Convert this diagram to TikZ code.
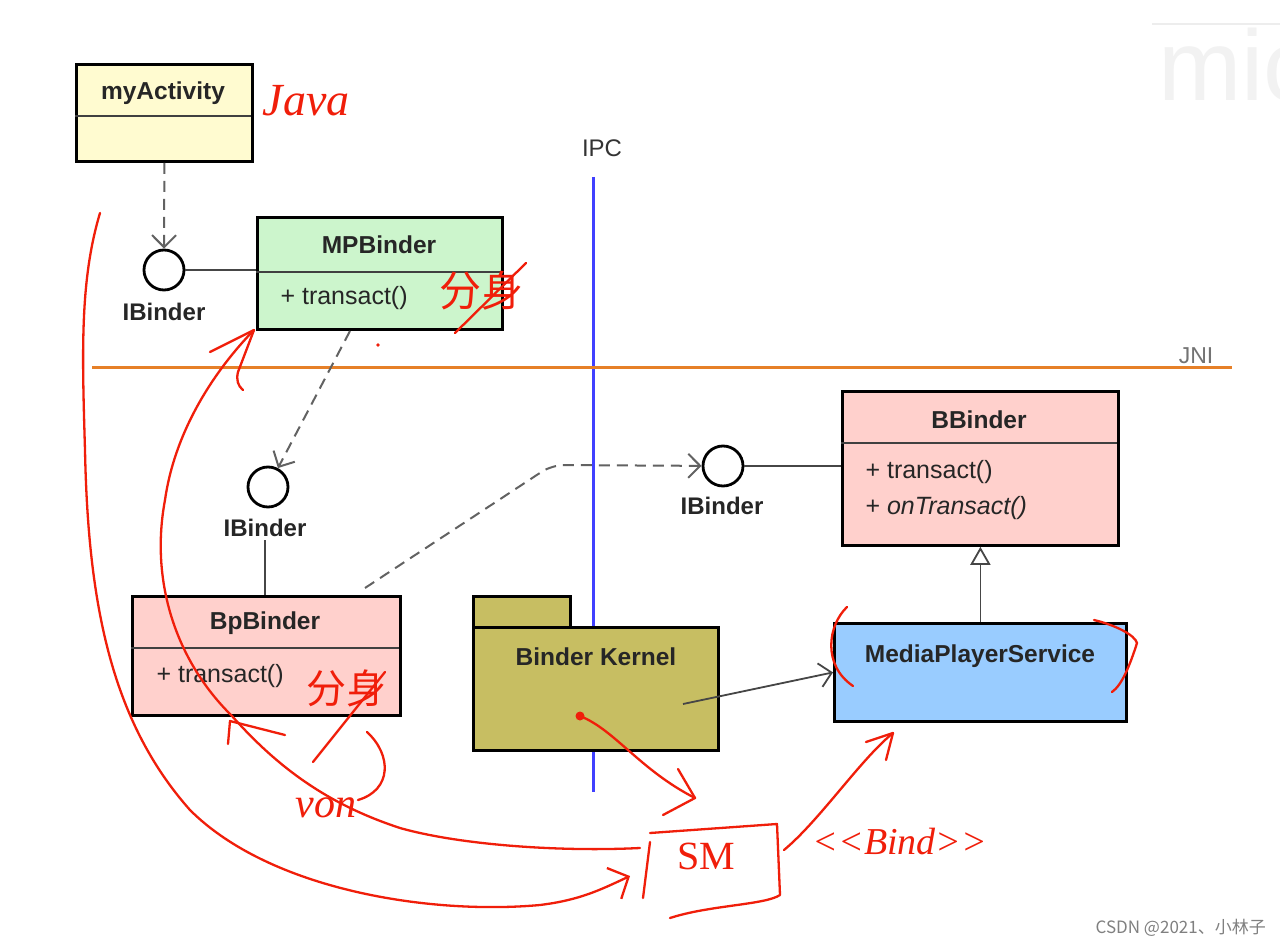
\documentclass[tikz,border=0pt]{standalone}
\usepackage{fontspec}
\setmainfont{Liberation Sans}
\newfontfamily\cjk{Noto Sans CJK SC}
\newfontfamily\handfont{Liberation Serif}
\usetikzlibrary{arrows.meta}
\definecolor{cyellow}{RGB}{255,251,208}
\definecolor{cgreen}{RGB}{204,245,204}
\definecolor{cpink}{RGB}{255,208,204}
\definecolor{cblue}{RGB}{153,204,255}
\definecolor{colive}{RGB}{199,190,98}
\definecolor{ipcblue}{RGB}{64,64,255}
\definecolor{jniorange}{RGB}{230,128,40}
\definecolor{handred}{RGB}{240,30,10}
\definecolor{lineg}{RGB}{70,70,70}
\tikzset{
  classbox/.style={draw=black, line width=2.8pt, anchor=north west, inner sep=0pt},
  titletext/.style={font=\fontsize{24.5}{28}\selectfont\bfseries, text=black!85},
  optext/.style={font=\fontsize{25}{29}\selectfont, text=black!85, anchor=west},
  divider/.style={line width=1.6pt, black!75},
  iface/.style={circle, draw=black, line width=2.8pt, minimum size=40pt, inner sep=0pt, fill=white},
  ifacelabel/.style={font=\fontsize{24}{28}\selectfont\bfseries, text=black!85},
  dep/.style={lineg!85, line width=2pt, dash pattern=on 11pt off 7pt, -{Straight Barb[length=12pt,width=24pt,line width=2pt]}},
  assoc/.style={lineg, line width=1.8pt},
  hand/.style={draw=handred, line width=2.3pt, line cap=round, line join=round},
  handtext/.style={text=handred, inner sep=0pt},
}
\begin{document}
\begin{tikzpicture}[x=1pt,y=-1pt]
\useasboundingbox (0,0) rectangle (1280,947);
\fill[white] (0,0) rectangle (1280,947);

% watermarks
\draw[black!7, line width=1.5pt] (1152,24) -- (1290,24);
\node[anchor=south west, inner sep=0pt, font=\fontsize{100}{100}\selectfont, text=black!5] (wm) at (1158,102) {mic};
\node[anchor=east, inner sep=0pt, font=\cjk\fontsize{17}{20}\selectfont, text=black!50] (csdn) at (1266,928) {CSDN @2021、小林子};

% IPC and JNI lines
\coordinate (ipctop) at (593,177);
\coordinate (ipcbot) at (593,792);
\draw[ipcblue, line width=3pt] (ipctop) -- (ipcbot);
\node[font=\fontsize{24}{28}\selectfont, text=black!80] (ipcl) at (602,148) {IPC};
\coordinate (jnil) at (92,367);
\coordinate (jnir) at (1232,367);
\draw[jniorange, line width=3pt] (jnil) -- (jnir);
\node[font=\fontsize{23}{26}\selectfont, text=black!55] (jnit) at (1196,356) {JNI};

% myActivity
\node[classbox, fill=cyellow, minimum width=176pt, minimum height=97pt] (act) at (75,63) {};
\node[titletext] (actt) at (163,93) {myActivity};
\draw[divider] (75,116) -- (251,116);

% first IBinder and MPBinder
\node[iface] (if1) at (164,270) {};
\node[ifacelabel] (if1l) at (164,312) {IBinder};
\node[classbox, fill=cgreen, minimum width=245pt, minimum height=112pt] (mp) at (256,216) {};
\node[titletext] (mpt) at (379,245) {MPBinder};
\draw[divider] (256,272) -- (501,272);
\node[optext] (mpop) at (277,298) {+ transact()};
\draw[assoc] (if1.east) -- (if1.east -| mp.west);
\draw[dep] (act.south) -- (if1.north);

% second IBinder and BpBinder
\node[iface] (if2) at (268,487) {};
\node[ifacelabel] (if2l) at (265,528) {IBinder};
\node[classbox, fill=cpink, minimum width=268pt, minimum height=119pt] (bp) at (131,595) {};
\node[titletext] (bpt) at (265,623) {BpBinder};
\draw[divider] (131,648) -- (399,648);
\node[optext] (bpop) at (153,676) {+ transact()};
\draw[assoc] (if2l.south) -- (if2l.south |- bp.north);
\coordinate (mpb) at (350,331);
\draw[dep] (mpb) -- (if2);

% third IBinder and BBinder
\node[iface] (if3) at (723,466) {};
\node[ifacelabel] (if3l) at (722,506) {IBinder};
\node[classbox, fill=cpink, minimum width=276pt, minimum height=154pt] (bb) at (841,390) {};
\node[titletext] (bbt) at (979,420) {BBinder};
\draw[divider] (841,443) -- (1117,443);
\node[optext] (bbop1) at (862,472) {+ transact()};
\node[optext] (bbop2) at (862,508) {+ \textit{onTransact()}};
\draw[assoc] (if3.east) -- (if3.east -| bb.west);
\coordinate (bpc) at (365,588);
\coordinate (bend) at (552,465);
\draw[dep, rounded corners=12pt] (bpc) -- (bend) -- (if3);

% MediaPlayerService
\node[classbox, fill=cblue, minimum width=292pt, minimum height=98pt] (mps) at (833,622) {};
\node[titletext] (mpst) at (980,656) {MediaPlayerService};
\draw[assoc, -{Triangle[open, length=18pt, width=20pt, line width=1.8pt, fill=white]}] (mps.north) -- (mps.north |- bb.south);

% Binder Kernel package
\node[classbox, fill=colive, minimum width=97pt, minimum height=31pt] (bktab) at (472,595) {};
\node[classbox, fill=colive, minimum width=245pt, minimum height=123pt] (bk) at (472,626) {};
\node[titletext] (bkt) at (596,657) {Binder Kernel};
\coordinate (bkp) at (683,704);
\draw[assoc, -{Straight Barb[length=12pt,width=24pt,line width=1.8pt]}] (bkp) -- (mps.west);

% ---------- red handwriting ----------
\node[handtext, font=\handfont\itshape\fontsize{46}{46}\selectfont] (java) at (306,101) {Java};
\node[handtext, font=\cjk\fontsize{42}{42}\selectfont] (fs1) at (481,291) {分身};
\draw[hand] (455,333) -- (526,263);
\node[handtext, font=\cjk\fontsize{40}{40}\selectfont] (fs2) at (346,688) {分身};
\draw[hand] (313,762) -- (385,672);
\node[handtext, font=\handfont\itshape\fontsize{42}{42}\selectfont] (von) at (326,808) {von};
\draw[hand] (367,732) .. controls (392,755) and (392,790) .. (358,800);

% SM box
\node[handtext, font=\handfont\fontsize{40}{40}\selectfont] (sm) at (706,856) {SM};
\draw[hand] (650,833) -- (777,824) -- (780,895) .. controls (765,905) and (710,905) .. (670,918);
\draw[hand] (650,842) -- (643,898);
\node[handtext, font=\handfont\itshape\fontsize{38}{38}\selectfont] (bind) at (900,842) {<<Bind>>};

% long curve from top-left to SM
\coordinate (c1s) at (100,213);
\coordinate (c1e) at (630,876);
\draw[hand, -{Straight Barb[length=16pt,width=34pt,line width=2.3pt]}] (c1s) .. controls (80,280) and (82,350) .. (85,450) .. controls (88,600) and (110,720) .. (190,810) .. controls (270,890) and (430,915) .. (540,905) .. controls (580,900) and (600,890) .. (c1e);

% curve from SM to BpBinder and MPBinder
\coordinate (c2s) at (640,848);
\coordinate (c2m) at (232,716);
\coordinate (c2e) at (254,330);
\draw[hand] (c2s) .. controls (560,852) and (460,845) .. (400,828) .. controls (330,805) and (280,770) .. (c2m) .. controls (175,660) and (150,580) .. (165,500) .. controls (175,430) and (215,370) .. (c2e);
\draw[hand] (210,352) -- (c2e) -- (238,372) .. controls (236,380) and (238,386) .. (243,390);
\draw[hand] (228,744) -- (230,721) -- (285,735);

% from Binder Kernel dot to SM
\coordinate (dot) at (580,716);
\fill[handred] (dot) circle (4.5pt);
\coordinate (c3e) at (695,798);
\draw[hand] (dot) .. controls (615,730) and (640,770) .. (c3e);
\draw[hand] (678,769) -- (c3e) -- (663,815);

% from SM to MediaPlayerService
\coordinate (c4s) at (784,850);
\coordinate (c4e) at (893,733);
\draw[hand] (c4s) .. controls (820,820) and (860,760) .. (c4e);
\draw[hand] (866,742) -- (c4e) -- (886,760);

% brackets around MediaPlayerService
\draw[hand] (847,607) .. controls (828,625) and (822,665) .. (853,686);
\draw[hand] (1094,620) .. controls (1115,625) and (1135,635) .. (1137,643) .. controls (1130,665) and (1122,685) .. (1112,692);

% small red dot
\fill[handred] (378,345) circle (1.8pt);
\end{tikzpicture}
\end{document}
